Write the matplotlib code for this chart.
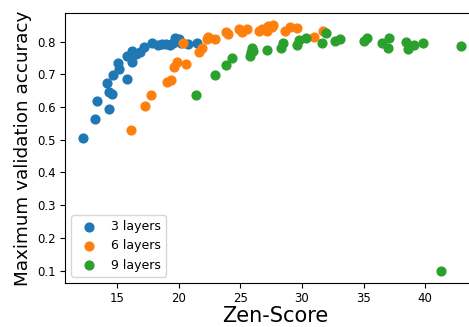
import matplotlib
matplotlib.use('Agg')
import matplotlib.pyplot as plt


# --- data
zen_3 = [12.24, 13.21, 13.37, 14.30, 14.19, 14.35, 14.60, 14.67, 15.11, 15.08,
         15.76, 15.76, 16.17, 16.22, 16.50, 16.85, 17.20, 17.80, 18.33, 18.61,
         18.96, 19.28, 19.55, 19.69, 20.04, 20.15, 20.77, 21.50]
acc_3 = [0.506, 0.564, 0.618, 0.594, 0.674, 0.647, 0.640, 0.699, 0.715, 0.735,
         0.686, 0.756, 0.738, 0.771, 0.761, 0.769, 0.782, 0.795, 0.790, 0.791,
         0.792, 0.790, 0.794, 0.812, 0.807, 0.794, 0.792, 0.797]

zen_6 = [16.11, 17.28, 17.77, 19.07, 19.34, 19.61, 19.83, 20.56, 20.37, 21.67,
         21.86, 22.27, 22.40, 22.94, 23.81, 24.02, 24.89, 25.11, 25.57, 26.55,
         26.74, 27.14, 27.28, 27.55, 27.68, 28.63, 29.04, 29.59, 30.94, 31.70]
acc_6 = [0.531, 0.603, 0.636, 0.677, 0.682, 0.722, 0.739, 0.731, 0.797, 0.769,
         0.780, 0.807, 0.814, 0.807, 0.828, 0.823, 0.838, 0.830, 0.838, 0.833,
         0.838, 0.831, 0.848, 0.843, 0.850, 0.833, 0.843, 0.841, 0.814, 0.831]

zen_9 = [21.37, 22.94, 23.84, 24.30, 25.79, 25.85, 25.95, 26.06, 27.20, 28.28,
         28.45, 29.63, 29.80, 30.34, 31.64, 31.97, 32.70, 33.05, 35.08, 35.28,
         36.50, 36.98, 37.11, 38.47, 38.61, 39.12, 39.80, 41.32, 42.92]
acc_9 = [0.636, 0.698, 0.729, 0.749, 0.756, 0.769, 0.779, 0.771, 0.775, 0.780,
         0.797, 0.790, 0.804, 0.812, 0.795, 0.826, 0.802, 0.809, 0.802, 0.812,
         0.794, 0.780, 0.810, 0.800, 0.777, 0.790, 0.795, 0.100, 0.785]

series = [(zen_3, acc_3, '3 layers'),
          (zen_6, acc_6, '6 layers'),
          (zen_9, acc_9, '9 layers')]


fig = plt.figure(figsize=(4.69, 3.27), dpi=100)
# right edge runs past the canvas, like the cropped original
ax = fig.add_axes([0.1386, 0.1346, 0.895, 0.826])

for x, y, label in series:
    ax.scatter(x, y, s=40, label=label)

ax.set_xlim(10.75, 44.85)
ax.set_ylim(0.0625, 0.8875)
ax.set_xticks([15, 20, 25, 30, 35, 40])
ax.set_yticks([0.1, 0.2, 0.3, 0.4, 0.5, 0.6, 0.7, 0.8])
ax.tick_params(labelsize=8.5, pad=3)

ax.set_xlabel('Zen-Score', fontsize=15, labelpad=1)
ax.set_ylabel('Maximum validation accuracy', fontsize=13.2)
ax.legend(loc='lower left', fontsize=9)

fig.savefig('out.png', dpi=100)
